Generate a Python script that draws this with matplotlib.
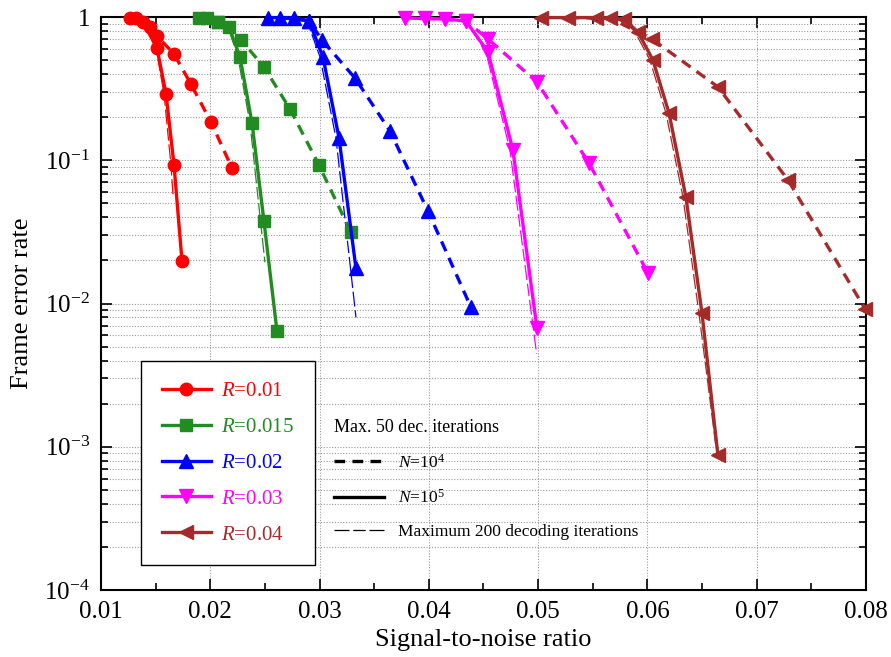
import matplotlib
matplotlib.use("Agg")
import matplotlib.pyplot as plt
from matplotlib.lines import Line2D
from matplotlib.ticker import FixedLocator, LogLocator, NullFormatter, MultipleLocator

plt.rcParams['font.family'] = ['Liberation Serif', 'DejaVu Serif']
plt.rcParams['mathtext.fontset'] = 'custom'
plt.rcParams['mathtext.rm'] = 'Liberation Serif'
plt.rcParams['mathtext.it'] = 'Liberation Serif:italic'

# ---------------- data ----------------
rates = ["0.01", "0.015", "0.02", "0.03", "0.04"]
colors = ["#ff0000", "#228b22", "#0000ff", "#ff00ff", "#a52a2a"]
markers = ["o", "s", "^", "v", "<"]

# N = 1e5 (solid), 50 iterations
r01_n5_x = [0.01265, 0.01384, 0.01512, 0.01595, 0.01668, 0.01741]
r01_n5_y = [0.984, 0.923, 0.608, 0.290, 0.0928, 0.0198]
r015_n5_x = [0.01897, 0.02070, 0.02171, 0.02272, 0.02382, 0.02491, 0.02610]
r015_n5_y = [0.99, 0.923, 0.852, 0.526, 0.182, 0.0376, 0.00644]
r02_n5_x = [0.02528, 0.02766, 0.02903, 0.03031, 0.03178, 0.03333]
r02_n5_y = [0.99, 0.99, 0.94, 0.526, 0.143, 0.0176]
r03_n5_x = [0.03781, 0.04147, 0.04339, 0.04541, 0.04769, 0.04989]
r03_n5_y = [0.984, 0.968, 0.938, 0.570, 0.118, 0.00676]
r04_n5_x = [0.05026, 0.05529, 0.05785, 0.05913, 0.06050, 0.06197, 0.06352, 0.06499, 0.06645]
r04_n5_y = [0.99, 0.99, 0.968, 0.786, 0.501, 0.214, 0.0554, 0.00858, 0.000876]

# N = 1e4 (dashed), 50 iterations
r01_n4_x = [0.0132, 0.01448, 0.01512, 0.01668, 0.01823, 0.02006, 0.02199]
r01_n4_y = [0.984, 0.852, 0.737, 0.552, 0.340, 0.185, 0.088]
r015_n4_x = [0.01970, 0.02070, 0.02281, 0.02491, 0.02729, 0.02994, 0.03287]
r015_n4_y = [0.99, 0.923, 0.691, 0.448, 0.228, 0.0928, 0.0314]
r02_n4_x = [0.02638, 0.02903, 0.03022, 0.03324, 0.03644, 0.03992, 0.04385]
r02_n4_y = [0.99, 0.94, 0.69, 0.375, 0.160, 0.0442, 0.00942]
r03_n4_x = [0.03964, 0.04339, 0.04541, 0.04989, 0.05465, 0.06005]
r03_n4_y = [0.984, 0.938, 0.702, 0.352, 0.0955, 0.0163]
r04_n4_x = [0.05273, 0.05657, 0.06041, 0.06645, 0.07285, 0.07990]
r04_n4_y = [0.99, 0.984, 0.702, 0.325, 0.0730, 0.0092]

# N = 1e5, maximum 200 decoding iterations (thin)
r01_it_x = [0.01265, 0.01384, 0.01503, 0.01577, 0.01640, 0.01659]
r01_it_y = [0.984, 0.923, 0.608, 0.290, 0.0928, 0.0572]
r015_it_x = [0.01897, 0.02070, 0.02162, 0.02253, 0.02363, 0.02500]
r015_it_y = [0.99, 0.923, 0.852, 0.526, 0.182, 0.0194]
r02_it_x = [0.02528, 0.02766, 0.02885, 0.03004, 0.03150, 0.03333]
r02_it_y = [0.99, 0.99, 0.94, 0.526, 0.143, 0.0080]
r03_it_x = [0.03781, 0.04147, 0.04339, 0.04522, 0.04742, 0.04986]
r03_it_y = [0.984, 0.968, 0.938, 0.570, 0.118, 0.00446]
r04_it_x = [0.05026, 0.05529, 0.05767, 0.05886, 0.06023, 0.06169, 0.06325, 0.06471, 0.06627]
r04_it_y = [0.99, 0.99, 0.968, 0.786, 0.501, 0.214, 0.0554, 0.00858, 0.00100]

solid = [(r01_n5_x, r01_n5_y), (r015_n5_x, r015_n5_y), (r02_n5_x, r02_n5_y),
         (r03_n5_x, r03_n5_y), (r04_n5_x, r04_n5_y)]
dashed = [(r01_n4_x, r01_n4_y), (r015_n4_x, r015_n4_y), (r02_n4_x, r02_n4_y),
          (r03_n4_x, r03_n4_y), (r04_n4_x, r04_n4_y)]
thin = [(r01_it_x, r01_it_y), (r015_it_x, r015_it_y), (r02_it_x, r02_it_y),
        (r03_it_x, r03_it_y), (r04_it_x, r04_it_y)]

xticks = [0.01, 0.02, 0.03, 0.04, 0.05, 0.06, 0.07, 0.08]
xticklabels = ["0.01", "0.02", "0.03", "0.04", "0.05", "0.06", "0.07", "0.08"]
yticks = [1e-4, 1e-3, 1e-2, 1e-1, 1]
yticklabels = [r"10$^{\mathregular{-4}}$", r"10$^{\mathregular{-3}}$", r"10$^{\mathregular{-2}}$",
               r"10$^{\mathregular{-1}}$", "1"]

# ---------------- figure ----------------
fig = plt.figure(figsize=(8.91, 6.57), dpi=100)
ax = fig.add_axes([101/891, 1-590/657, (866-101)/891, (590-17)/657])

msizes = [9, 9, 10, 10, 10]
for i in range(5):
    c = colors[i]
    tx, ty = thin[i]
    ax.plot(tx, ty, color=c, lw=0.9, dashes=(12, 3, 10, 3), zorder=2)
    sx, sy = solid[i]
    ax.plot(sx, sy, color=c, lw=2.4, marker=markers[i], ms=msizes[i], clip_on=False, zorder=3)
    dx, dy = dashed[i]
    ax.plot(dx, dy, color=c, lw=2.4, marker=markers[i], ms=msizes[i], dashes=(3.2, 2.2),
            clip_on=False, zorder=3)

ax.set_xscale('linear')
ax.set_yscale('log')
ax.set_xlim(0.01, 0.08)
ax.set_ylim(1e-4, 1)

ax.xaxis.set_major_locator(FixedLocator(xticks))
ax.set_xticklabels(xticklabels)
ax.xaxis.set_minor_locator(MultipleLocator(0.005))
ax.yaxis.set_major_locator(FixedLocator(yticks))
ax.set_yticklabels(yticklabels)
ax.yaxis.set_minor_locator(LogLocator(base=10, subs=range(2, 10), numticks=20))
ax.yaxis.set_minor_formatter(NullFormatter())

ax.tick_params(which='both', direction='in', top=True, right=True, labelsize=18, width=1.2)
ax.tick_params(which='major', length=8, pad=8)
ax.tick_params(which='minor', length=5)
for s in ax.spines.values():
    s.set_linewidth(1.5)

ax.grid(True, which='major', axis='x', color='#999999', ls=(0, (1, 1.5)), lw=0.8)
ax.grid(True, which='both', axis='y', color='#999999', ls=(0, (1, 1.5)), lw=0.8)
ax.set_axisbelow(True)

ax.set_xlabel("Signal-to-noise ratio", fontsize=19, labelpad=4)
ax.set_ylabel("Frame error rate", fontsize=19, labelpad=8)

# legend 1: rates
h1 = [Line2D([], [], color=colors[i], lw=2.4, marker=markers[i], ms=msizes[i]) for i in range(5)]
l1 = [r"$R$=" + r for r in rates]
leg1 = ax.legend(h1, l1, loc='upper left', bbox_to_anchor=(0.052, 0.40), fontsize=15,
                 labelcolor='linecolor', numpoints=1, handlelength=2.35, labelspacing=0.78,
                 fancybox=False, edgecolor='black', framealpha=1, borderpad=1.0,
                 handletextpad=0.5, borderaxespad=0)
leg1.get_frame().set_linewidth(1.0)
ax.add_artist(leg1)

# legend 2: line styles
h2 = [Line2D([], [], color='black', lw=2.4, dashes=(3.2, 2.2)),
      Line2D([], [], color='black', lw=2.4),
      Line2D([], [], color='black', lw=0.9, dashes=(12, 3, 10, 3))]
l2 = [r"$N$=10$^{\mathregular{4}}$", r"$N$=10$^{\mathregular{5}}$", "Maximum 200 decoding iterations"]
leg2 = ax.legend(h2, l2, loc='upper left', bbox_to_anchor=(0.295, 0.31), fontsize=12.5,
                 title="Max. 50 dec. iterations", title_fontsize=13, alignment='left',
                 frameon=False, handlelength=2.9, labelspacing=1.0, handletextpad=0.8,
                 borderaxespad=0)

fig.savefig("out.png", dpi=100)
